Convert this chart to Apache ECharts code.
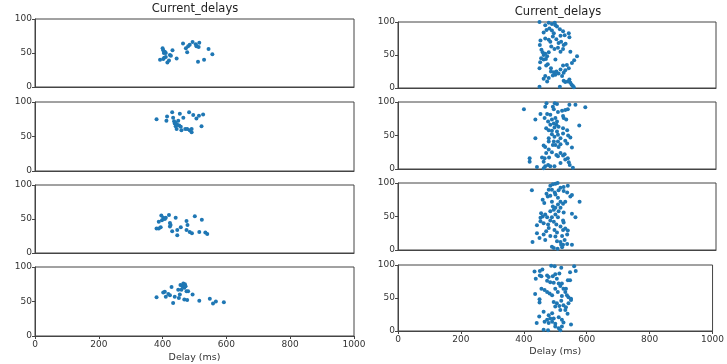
<!DOCTYPE html>
<html>
<head>
<meta charset="utf-8">
<script src="https://cdn.jsdelivr.net/npm/echarts@6/dist/echarts.min.js"></script>
<style>html,body{margin:0;padding:0;background:#fff}#c{width:727px;height:364px}</style>
</head>
<body>
<div id="c"></div>
<script>
// Tick values
var xTicks = [0, 200, 400, 600, 800, 1000];
var yTicks = [0, 50, 100];
var titleText = 'Current_delays';
var xLabel = 'Delay (ms)';

// Left column, subplots 1..4: [delay, value]
var L1 = [[392,40],[400,57],[402,54],[404,50],[407,52],[410,50],[405,43],[402,41],[410,44],[415,36],[420,39],[423,47],[426,46],[431,54],[444,42],[464,64],[473,57],[477,51],[480,60],[485,62],[494,66],[504,63],[506,60],[513,59],[515,65],[511,37],[530,40],[544,56],[556,48]];
var L2 = [[381,75],[414,79],[412,73],[430,85],[433,77],[436,72],[438,69],[441,65],[444,61],[449,73],[452,66],[454,83],[457,64],[459,59],[465,77],[471,61],[477,61],[483,85],[485,59],[491,56],[491,61],[496,81],[506,76],[514,80],[522,65],[527,82],[441,70],[446,67]];
var L3 = [[381,36],[388,36],[394,38],[388,46],[396,55],[402,52],[398,48],[407,50],[410,52],[420,56],[423,44],[425,41],[423,39],[430,32],[441,52],[446,26],[446,34],[457,38],[475,34],[475,47],[478,41],[485,31],[492,29],[501,54],[515,31],[523,49],[534,30],[540,28]];
var L4 = [[381,56],[402,63],[407,64],[410,57],[418,61],[423,59],[428,71],[433,48],[438,57],[449,67],[451,55],[454,60],[456,74],[459,67],[462,72],[465,76],[468,70],[470,75],[472,72],[475,65],[468,53],[477,52],[480,65],[494,60],[515,51],[548,54],[558,47],[567,50],[592,49]];

// Right column, subplots 1..4
var R1 = [[445,100],[463,95],[474,99],[484,97],[493,99],[495,95],[500,93],[458,84],[467,88],[476,90],[484,87],[490,83],[509,89],[519,86],[511,79],[524,80],[537,83],[539,77],[448,72],[463,75],[474,73],[479,70],[487,78],[498,74],[505,68],[513,70],[521,65],[527,67],[446,65],[482,63],[492,59],[503,61],[511,55],[519,59],[542,55],[451,58],[455,54],[458,50],[463,52],[469,48],[474,54],[450,45],[458,43],[465,44],[447,39],[471,36],[495,43],[481,30],[445,30],[466,34],[519,34],[531,35],[547,38],[554,42],[563,48],[463,18],[458,14],[469,10],[481,25],[490,24],[495,20],[498,25],[505,22],[511,28],[516,18],[521,23],[526,27],[537,30],[521,11],[526,9],[534,10],[539,13],[542,8],[546,5],[550,3],[553,1],[445,2],[509,2],[474,15],[487,19]];
var R2 = [[396,89],[432,74],[432,46],[414,16],[414,11],[437,3],[467,98],[493,98],[500,97],[463,93],[487,93],[490,89],[539,96],[558,96],[589,92],[448,82],[469,82],[479,81],[503,85],[516,87],[526,88],[534,89],[461,76],[472,71],[484,74],[495,76],[500,71],[519,79],[521,76],[529,74],[479,66],[490,68],[498,66],[505,63],[466,61],[474,58],[484,57],[492,62],[500,56],[519,61],[532,58],[570,65],[484,52],[492,48],[503,51],[511,46],[519,53],[535,50],[542,47],[474,46],[474,41],[490,41],[503,41],[511,37],[495,36],[505,33],[526,42],[532,38],[487,36],[458,35],[463,33],[474,29],[466,24],[453,17],[461,16],[475,17],[484,25],[503,19],[511,24],[519,20],[524,22],[534,16],[547,32],[498,21],[458,11],[472,6],[479,4],[492,4],[463,4],[458,1],[511,9],[537,10],[540,6],[550,2],[526,14]];
var R3 = [[421,89],[423,12],[571,72],[479,96],[487,98],[495,99],[502,100],[511,93],[521,94],[534,96],[474,90],[484,90],[493,86],[505,89],[521,88],[532,86],[467,84],[471,80],[479,81],[495,83],[503,78],[542,80],[547,82],[455,75],[460,70],[484,72],[511,72],[519,69],[526,72],[503,68],[487,65],[495,63],[511,63],[479,58],[490,60],[505,58],[521,56],[495,53],[484,49],[503,49],[547,54],[558,49],[450,55],[448,48],[455,50],[463,53],[469,49],[448,43],[458,40],[437,37],[472,38],[479,44],[490,42],[519,44],[521,41],[498,38],[511,35],[519,30],[526,32],[534,29],[492,30],[500,26],[474,33],[466,28],[479,21],[458,23],[437,25],[445,18],[463,15],[495,20],[516,21],[532,23],[524,15],[511,12],[519,8],[532,9],[547,8],[500,13],[484,5],[490,3],[502,2],[516,4],[513,8]];
var R4 = [[434,90],[438,79],[436,56],[450,48],[450,43],[441,12],[449,22],[463,29],[466,14],[474,17],[463,2],[477,1],[487,99],[498,98],[519,96],[560,98],[565,91],[451,91],[459,93],[474,84],[479,82],[492,83],[500,86],[513,87],[505,79],[547,89],[451,84],[456,83],[474,76],[484,74],[495,73],[511,72],[516,68],[521,72],[526,64],[534,64],[532,59],[540,77],[547,77],[456,64],[466,62],[474,59],[482,57],[490,54],[500,64],[508,59],[521,53],[537,54],[542,51],[550,49],[495,44],[505,42],[513,38],[519,46],[526,39],[534,36],[542,42],[550,47],[500,37],[516,32],[532,32],[539,26],[490,27],[479,24],[495,19],[511,21],[521,17],[479,12],[490,14],[500,7],[511,4],[521,7],[516,1],[550,10],[526,13],[500,11],[484,19]];

var panels = [
  {data: L1, left: 35, width: 319, top: 19, height: 68, bottom: false},
  {data: L2, left: 35, width: 319, top: 102, height: 69, bottom: false},
  {data: L3, left: 35, width: 319, top: 185, height: 68, bottom: false},
  {data: L4, left: 35, width: 319, top: 267, height: 69, bottom: true, gap: 17},
  {data: R1, left: 398, width: 318, top: 22, height: 66, bottom: false},
  {data: R2, left: 398, width: 318, top: 102, height: 67, bottom: false},
  {data: R3, left: 398, width: 318, top: 183, height: 67, bottom: false},
  {data: R4, left: 398, width: 318, top: 265, height: 66, bottom: true, gap: 16}
];

var font = 'DejaVu Sans';
var spine = '#444';
var plain = function (v) { return String(v); };
var grids = [], xAxes = [], yAxes = [], series = [];
panels.forEach(function (p, i) {
  grids.push({left: p.left, top: p.top, width: p.width, height: p.height,
    show: true, borderColor: spine, borderWidth: 1, backgroundColor: '#fff', containLabel: false});
  xAxes.push({gridIndex: i, type: 'value', min: xTicks[0], max: xTicks[xTicks.length - 1], interval: 200,
    axisLine: {show: true, onZero: false, lineStyle: {color: spine, width: 1}},
    axisTick: {show: p.bottom, length: 3, lineStyle: {color: spine}},
    axisLabel: {show: p.bottom, fontSize: 9, color: '#333', fontFamily: font, margin: 4, formatter: plain},
    splitLine: {show: false},
    name: p.bottom ? xLabel : '', nameLocation: 'middle', nameGap: p.gap || 18,
    nameTextStyle: {fontSize: 9.5, color: '#333', fontFamily: font}});
  yAxes.push({gridIndex: i, type: 'value', min: yTicks[0], max: yTicks[yTicks.length - 1], interval: 50,
    axisLine: {show: true, lineStyle: {color: spine, width: 1}},
    axisTick: {show: true, length: 3, lineStyle: {color: spine}},
    axisLabel: {show: true, fontSize: 9, color: '#333', fontFamily: font, margin: 3, formatter: plain},
    splitLine: {show: false}});
  series.push({type: 'scatter', xAxisIndex: i, yAxisIndex: i, data: p.data,
    symbol: 'circle', symbolSize: 4, itemStyle: {color: '#1f77b4', opacity: 1}, silent: true, animation: false});
});

var chart = echarts.init(document.getElementById('c'), null, {renderer: 'canvas'});
chart.setOption({
  backgroundColor: '#fff',
  animation: false,
  grid: grids, xAxis: xAxes, yAxis: yAxes, series: series,
  graphic: [
    {type: 'text', x: 195, y: 9, style: {text: titleText, fontSize: 11.5, fontFamily: font, fill: '#222', align: 'center', verticalAlign: 'middle'}},
    {type: 'text', x: 558, y: 12.5, style: {text: titleText, fontSize: 11.5, fontFamily: font, fill: '#222', align: 'center', verticalAlign: 'middle'}}
  ]
});
</script>
</body>
</html>
